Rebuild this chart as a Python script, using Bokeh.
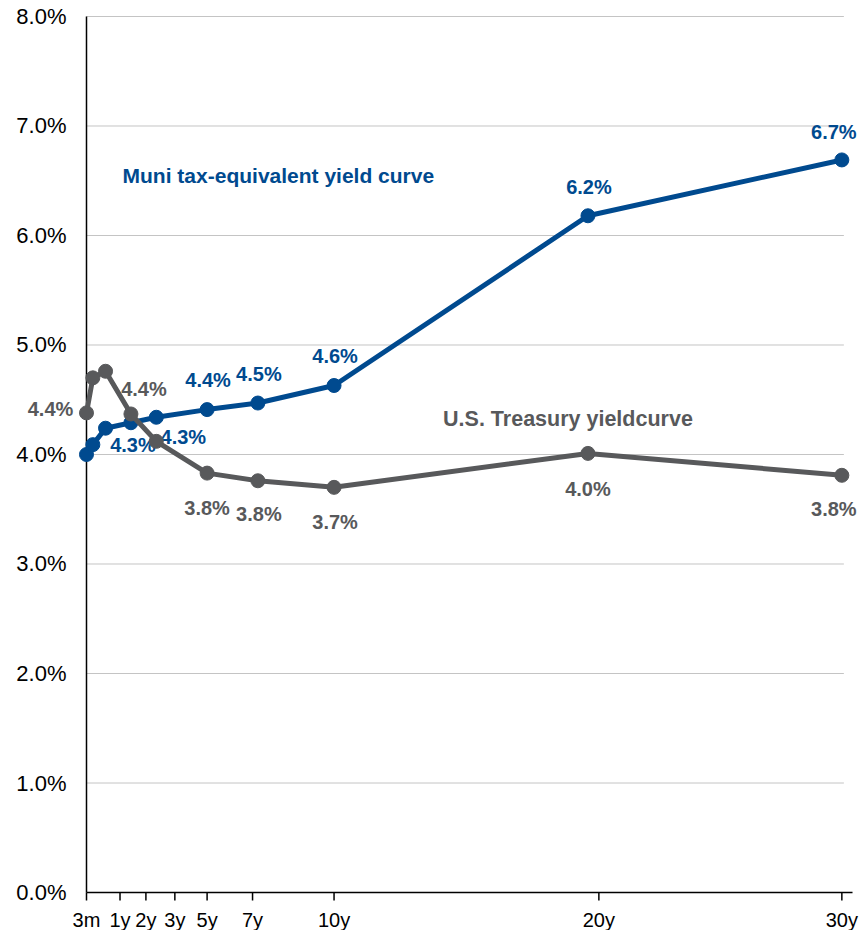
import math
from bokeh.plotting import figure
from bokeh.models import ColumnDataSource, Range1d, Label
from bokeh.core.properties import value
from bokeh.embed import file_html
from bokeh.resources import INLINE

# ---- data ----
maturity_years = [0.25, 0.5, 1, 2, 3, 5, 7, 10, 20, 30]
muni_yield = [4.00, 4.09, 4.24, 4.29, 4.34, 4.41, 4.47, 4.63, 6.18, 6.69]
treasury_yield = [4.38, 4.70, 4.76, 4.37, 4.12, 3.83, 3.76, 3.70, 4.01, 3.81]
muni_labeled = [False, False, False, True, True, True, True, True, True, True]
treasury_labeled = [True, False, False, True, False, True, True, True, True, True]
tick_labels = ["3m", "1y", "2y", "3y", "5y", "7y", "10y", "20y", "30y"]
tick_values = [0.25, 1.57, 2.59, 3.73, 5.0, 6.79, 10.0, 20.43, 30.0]
y_ticks = [0, 1, 2, 3, 4, 5, 6, 7, 8]
y_tick_labels = [f"{v:.1f}%" for v in y_ticks]
muni_name = "Muni tax-equivalent yield curve"
treasury_name = "U.S. Treasury yieldcurve"

# ---- styles ----
BLUE = "#004A8F"
GRAY = "#58595B"
FONT = "Liberation Sans"
muni_label_offsets = [(0, 0), (0, 0), (0, 0), (2, 22), (27, 20), (1, -30), (1, -29), (1, -30), (1, -29), (-8, -28)]
treasury_label_offsets = [(-36, -4), (0, 0), (0, 0), (13, -25), (0, 0), (0, 35), (1, 33), (1, 35), (0, 36), (-8, 34)]

# ranges chosen so that the frame covers the whole canvas (no clipping of labels)
X_START, X_END = -3.137, 30.695
Y_START, Y_END = -0.347, 8.146
x_axis_start = maturity_years[0]
x_axis_end = max(maturity_years) + 0.42
grid_end = max(maturity_years) + 0.08

p = figure(width=859, height=930, output_backend="svg", toolbar_location=None,
           x_range=Range1d(X_START, X_END), y_range=Range1d(Y_START, Y_END),
           x_axis_location=None, y_axis_location=None,
           min_border_left=0, min_border_right=0, min_border_top=0, min_border_bottom=0)
p.outline_line_color = None
p.background_fill_color = "white"
p.border_fill_color = "white"
p.xgrid.grid_line_color = None
p.ygrid.grid_line_color = None

# horizontal grid lines
gy = y_ticks[1:]
p.segment(x0=[x_axis_start] * len(gy), y0=gy, x1=[grid_end] * len(gy), y1=gy,
          line_color="#C4C4C4", line_width=1)

# axis lines
p.segment(x0=[x_axis_start], y0=[y_ticks[0]], x1=[x_axis_start], y1=[y_ticks[-1]],
          line_color="black", line_width=1.5)
p.segment(x0=[x_axis_start], y0=[y_ticks[0]], x1=[x_axis_end], y1=[y_ticks[0]],
          line_color="black", line_width=1.5)

# x tick marks and labels
p.ray(x=tick_values, y=[y_ticks[0]] * len(tick_values), length=8, length_units="screen",
      angle=-math.pi / 2, line_color="black", line_width=1.5)
p.text(x=tick_values, y=[y_ticks[0]] * len(tick_values), text=tick_labels,
       y_offset=16, text_align="center", text_baseline="top",
       text_font=value(FONT), text_font_size="20px", text_color="black")

# y tick labels
p.text(x=[x_axis_start] * len(y_ticks), y=y_ticks, text=y_tick_labels,
       x_offset=-20, text_align="right", text_baseline="middle",
       text_font=value(FONT), text_font_size="22px", text_color="black")


def label_source(vals, mask, offsets):
    xs, ys, ts, dx, dy = [], [], [], [], []
    for xv, yv, m, off in zip(maturity_years, vals, mask, offsets):
        if m:
            xs.append(xv); ys.append(yv); ts.append(f"{yv:.1f}%")
            dx.append(off[0]); dy.append(off[1])
    return ColumnDataSource(dict(x=xs, y=ys, t=ts, dx=dx, dy=dy))


# muni series
muni_src = ColumnDataSource(dict(x=maturity_years, y=muni_yield))
p.line("x", "y", source=muni_src, line_color=BLUE, line_width=5)
p.scatter("x", "y", source=muni_src, size=14, fill_color=BLUE, line_color=BLUE)
p.text("x", "y", text="t", source=label_source(muni_yield, muni_labeled, muni_label_offsets),
       x_offset="dx", y_offset="dy", text_align="center", text_baseline="middle",
       text_font=value(FONT), text_font_style="bold", text_font_size="20px", text_color=BLUE)

# treasury series
tr_src = ColumnDataSource(dict(x=maturity_years, y=treasury_yield))
p.line("x", "y", source=tr_src, line_color=GRAY, line_width=5)
p.scatter("x", "y", source=tr_src, size=14, fill_color=GRAY, line_color=GRAY)
p.text("x", "y", text="t", source=label_source(treasury_yield, treasury_labeled, treasury_label_offsets),
       x_offset="dx", y_offset="dy", text_align="center", text_baseline="middle",
       text_font=value(FONT), text_font_style="bold", text_font_size="20px", text_color=GRAY)

# series names
p.add_layout(Label(x=1.67, y=6.545, text=muni_name, text_align="left", text_baseline="middle",
                   text_font=FONT, text_font_style="bold", text_font_size="21px", text_color=BLUE))
p.add_layout(Label(x=maturity_years[8], y=treasury_yield[8], x_offset=-20, y_offset=34,
                   text=treasury_name, text_align="center", text_baseline="middle",
                   text_font=FONT, text_font_style="bold", text_font_size="21.5px", text_color=GRAY))

open("out.html", "w").write(file_html(p, INLINE))
